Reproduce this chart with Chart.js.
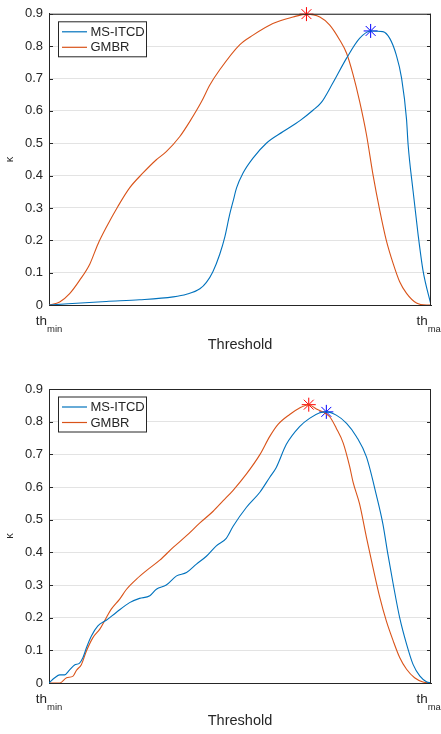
<!DOCTYPE html>
<html>
<head>
<meta charset="utf-8">
<script src="https://cdn.jsdelivr.net/npm/chart.js@4.4.0/dist/chart.umd.min.js"></script>
<style>
  html, body { margin: 0; padding: 0; background: #fff; }
  canvas { display: block; }
</style>
</head>
<body>
<canvas id="chart-top" width="441" height="367"></canvas>
<canvas id="chart-bottom" width="441" height="367"></canvas>
<script>
// series labels and colours
const seriesNames = ['MS-ITCD', 'GMBR'];
const lineColors = ['#0072BD', '#D95319'];
const peakColors = ['#0000FF', '#FF0000'];

// axis ticks
const yMax = 0.9;
const yStep = 0.1;
const xTickValues = [0, 1];
const xTickBase = 'th';
const xTickSubs = ['min', 'max'];

// top panel (threshold normalised 0..1, kappa)
const topItcdX = [0, 0.150, 0.237, 0.325, 0.360, 0.395, 0.412, 0.429, 0.447, 0.460, 0.473, 0.482, 0.491, 0.508, 0.534, 0.569, 0.613, 0.657, 0.691, 0.713, 0.743, 0.779, 0.813, 0.842, 0.874, 0.892, 0.909, 0.923, 0.936, 0.940, 0.953, 0.966, 0.979, 1];
const topItcdY = [0, 0.011, 0.016, 0.025, 0.033, 0.050, 0.070, 0.103, 0.157, 0.209, 0.280, 0.321, 0.362, 0.408, 0.454, 0.500, 0.536, 0.570, 0.602, 0.626, 0.686, 0.763, 0.824, 0.847, 0.845, 0.824, 0.773, 0.701, 0.573, 0.497, 0.353, 0.220, 0.107, 0];
const topGmbrX = [0, 0.028, 0.054, 0.080, 0.107, 0.128, 0.150, 0.181, 0.211, 0.246, 0.281, 0.307, 0.342, 0.368, 0.399, 0.421, 0.447, 0.499, 0.534, 0.586, 0.639, 0.674, 0.709, 0.735, 0.761, 0.779, 0.796, 0.813, 0.831, 0.848, 0.866, 0.883, 0.901, 0.918, 0.936, 0.962, 0.988, 1];
const topGmbrY = [0, 0.009, 0.035, 0.076, 0.127, 0.188, 0.240, 0.306, 0.362, 0.408, 0.449, 0.474, 0.520, 0.566, 0.628, 0.680, 0.727, 0.804, 0.834, 0.870, 0.890, 0.899, 0.890, 0.865, 0.819, 0.778, 0.712, 0.630, 0.527, 0.404, 0.292, 0.200, 0.128, 0.072, 0.036, 0.006, 0, 0];
const topItcdPeak = [0.842, 0.847];
const topGmbrPeak = [0.674, 0.899];

// bottom panel
const bottomItcdX = [0, 0.015, 0.028, 0.041, 0.054, 0.067, 0.080, 0.089, 0.098, 0.111, 0.128, 0.150, 0.176, 0.211, 0.237, 0.264, 0.281, 0.307, 0.334, 0.360, 0.386, 0.412, 0.438, 0.464, 0.482, 0.517, 0.552, 0.578, 0.595, 0.621, 0.656, 0.682, 0.709, 0.726, 0.752, 0.779, 0.805, 0.831, 0.857, 0.874, 0.887, 0.901, 0.918, 0.936, 0.953, 0.971, 0.988, 1];
const bottomItcdY = [0, 0.016, 0.025, 0.025, 0.040, 0.055, 0.061, 0.078, 0.108, 0.144, 0.175, 0.192, 0.216, 0.246, 0.259, 0.267, 0.287, 0.300, 0.328, 0.338, 0.364, 0.388, 0.420, 0.443, 0.480, 0.538, 0.584, 0.630, 0.660, 0.730, 0.785, 0.810, 0.827, 0.830, 0.820, 0.795, 0.754, 0.692, 0.575, 0.487, 0.395, 0.303, 0.200, 0.119, 0.057, 0.021, 0.004, 0];
const bottomGmbrX = [0, 0.028, 0.046, 0.063, 0.072, 0.085, 0.098, 0.115, 0.133, 0.150, 0.163, 0.185, 0.203, 0.229, 0.255, 0.290, 0.325, 0.360, 0.395, 0.429, 0.456, 0.482, 0.517, 0.552, 0.578, 0.599, 0.630, 0.656, 0.680, 0.700, 0.717, 0.735, 0.752, 0.770, 0.787, 0.796, 0.813, 0.831, 0.848, 0.866, 0.883, 0.901, 0.918, 0.936, 0.957, 0.979, 1];
const bottomGmbrY = [0, 0, 0.016, 0.021, 0.039, 0.057, 0.098, 0.139, 0.165, 0.200, 0.226, 0.257, 0.287, 0.318, 0.344, 0.376, 0.415, 0.451, 0.490, 0.525, 0.558, 0.590, 0.640, 0.699, 0.755, 0.791, 0.822, 0.842, 0.852, 0.839, 0.830, 0.815, 0.780, 0.735, 0.663, 0.615, 0.548, 0.446, 0.354, 0.262, 0.190, 0.129, 0.078, 0.042, 0.016, 0.003, 0];
const bottomItcdPeak = [0.726, 0.830];
const bottomGmbrPeak = [0.680, 0.852];

const FONT = '"Liberation Sans", Arial, Helvetica, sans-serif';
const AXIS = '#262626';

const toPoints = (xs, ys) => xs.map((x, i) => ({ x: x, y: ys[i] }));

// MATLAB style box, inward ticks, subscript x labels and legend
const matlabAxes = {
    id: 'matlabAxes',
    afterDraw(chart) {
        const { ctx, chartArea: a, scales: { x, y } } = chart;
        ctx.save();
        ctx.strokeStyle = AXIS;
        ctx.lineWidth = 1;
        ctx.beginPath();
        ctx.moveTo(a.left, a.top + 0.5);
        ctx.lineTo(a.right, a.top + 0.5);
        ctx.moveTo(a.right - 0.5, a.top);
        ctx.lineTo(a.right - 0.5, a.bottom);
        y.ticks.forEach(t => {
            const py = Math.round(y.getPixelForValue(t.value)) + 0.5;
            ctx.moveTo(a.left, py);
            ctx.lineTo(a.left + 4, py);
            ctx.moveTo(a.right, py);
            ctx.lineTo(a.right - 4, py);
        });
        ctx.stroke();

        // x tick labels: th with subscript
        ctx.fillStyle = AXIS;
        ctx.textBaseline = 'alphabetic';
        ctx.textAlign = 'left';
        xTickValues.forEach((v, i) => {
            const px = x.getPixelForValue(v);
            ctx.font = '13.5px ' + FONT;
            const wBase = ctx.measureText(xTickBase).width;
            ctx.font = '9.5px ' + FONT;
            const wSub = ctx.measureText(xTickSubs[i]).width;
            const start = px - (wBase + wSub) / 2;
            ctx.font = '13.5px ' + FONT;
            ctx.fillText(xTickBase, start, a.bottom + 20);
            ctx.font = '9.5px ' + FONT;
            ctx.fillText(xTickSubs[i], start + wBase, a.bottom + 27);
        });

        // legend box
        const lx = a.left + 9, ly = a.top + 7.5;
        ctx.fillStyle = '#fff';
        ctx.fillRect(lx, ly, 88, 35);
        ctx.strokeStyle = AXIS;
        ctx.strokeRect(lx + 0.5, ly + 0.5, 88, 35);
        ctx.font = '13px ' + FONT;
        ctx.textBaseline = 'middle';
        seriesNames.forEach((name, i) => {
            const ry = ly + 10.5 + i * 15.5;
            ctx.strokeStyle = lineColors[i];
            ctx.lineWidth = 1.2;
            ctx.beginPath();
            ctx.moveTo(lx + 4, ry);
            ctx.lineTo(lx + 29, ry);
            ctx.stroke();
            ctx.fillStyle = AXIS;
            ctx.fillText(name, lx + 32.5, ry + 0.5);
        });
        ctx.restore();
    }
};

function makeChart(canvasId, itcd, gmbr, itcdPeak, gmbrPeak, layout) {
    const datasets = [
        { label: seriesNames[0], data: toPoints(itcd[0], itcd[1]), borderColor: lineColors[0] },
        { label: seriesNames[1], data: toPoints(gmbr[0], gmbr[1]), borderColor: lineColors[1] }
    ].map(d => Object.assign(d, {
        borderWidth: 1.1,
        pointRadius: 0,
        fill: false,
        cubicInterpolationMode: 'monotone'
    }));

    [itcdPeak, gmbrPeak].forEach((p, i) => {
        datasets.push({
            label: seriesNames[i] + ' peak',
            data: [{ x: p[0], y: p[1] }],
            showLine: false,
            pointStyle: 'star',
            pointRadius: 7,
            pointBorderWidth: 1,
            borderColor: peakColors[i],
            backgroundColor: peakColors[i],
            clip: false
        });
    });

    return new Chart(document.getElementById(canvasId), {
        type: 'line',
        data: { datasets: datasets },
        plugins: [matlabAxes],
        options: {
            responsive: false,
            animation: false,
            events: [],
            layout: { autoPadding: false, padding: { top: layout.top, right: 10, left: 0, bottom: 0 } },
            plugins: { legend: { display: false }, tooltip: { enabled: false } },
            scales: {
                x: {
                    type: 'linear',
                    min: 0,
                    max: 1,
                    grid: { display: false },
                    border: { display: true, color: AXIS, width: 1 },
                    ticks: { display: false },
                    title: {
                        display: true,
                        text: 'Threshold',
                        color: AXIS,
                        font: { family: FONT, size: 14.5 },
                        padding: { top: 0, bottom: layout.titlePad }
                    },
                    afterFit: s => { s.height = layout.xHeight; }
                },
                y: {
                    min: 0,
                    max: yMax,
                    grid: { color: '#e3e3e3', lineWidth: 1, drawTicks: false },
                    border: { display: true, color: AXIS, width: 1 },
                    ticks: { stepSize: yStep, padding: 6, color: AXIS, font: { family: FONT, size: 13 } },
                    title: {
                        display: true,
                        text: 'κ',
                        color: AXIS,
                        font: { family: FONT, size: 11 },
                        padding: { top: 3, bottom: 0 }
                    },
                    afterFit: s => { s.width = 49; }
                }
            }
        }
    });
}

makeChart('chart-top', [topItcdX, topItcdY], [topGmbrX, topGmbrY], topItcdPeak, topGmbrPeak,
    { top: 12, xHeight: 62, titlePad: 13.5 });
makeChart('chart-bottom', [bottomItcdX, bottomItcdY], [bottomGmbrX, bottomGmbrY], bottomItcdPeak, bottomGmbrPeak,
    { top: 22, xHeight: 51, titlePad: 4 });
</script>
</body>
</html>
